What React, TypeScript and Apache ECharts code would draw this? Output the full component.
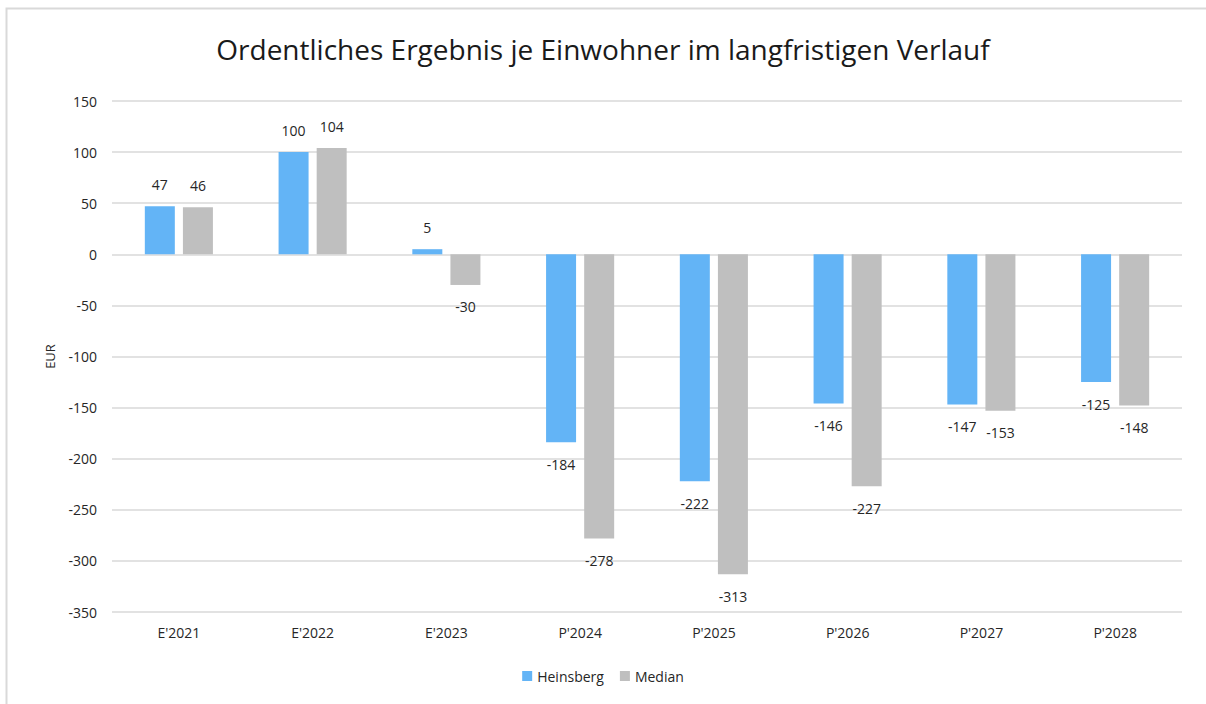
import React, { useEffect, useRef } from "react";
import * as echarts from "echarts";

const categories = ["E'2021", "E'2022", "E'2023", "P'2024", "P'2025", "P'2026", "P'2027", "P'2028"];
const heinsberg = [47, 100, 5, -184, -222, -146, -147, -125];
const median = [46, 104, -30, -278, -313, -227, -153, -148];
const seriesNames = ["Heinsberg", "Median"];
const title = "Ordentliches Ergebnis je Einwohner im langfristigen Verlauf";
const axisName = "EUR";

const FONT = "'Open Sans', 'Liberation Sans', sans-serif";

function toItems(values: number[]) {
  return values.map((v) => ({
    value: v,
    label: { position: v >= 0 ? "top" : "bottom" },
  }));
}

export default function App() {
  const ref = useRef<HTMLDivElement>(null);
  useEffect(() => {
    document.body.style.margin = "0";
    const chart = echarts.init(ref.current!, null, { renderer: "svg" });
    const labelStyle = {
      show: true,
      distance: 15,
      fontSize: 14,
      color: "#262626",
      fontFamily: FONT,
    };
    chart.setOption({
      animation: false,
      backgroundColor: "#ffffff",
      title: {
        text: title,
        left: "center",
        top: 30,
        textStyle: { fontSize: 28, fontWeight: "normal", color: "#1a1a1a", fontFamily: FONT },
      },
      graphic: [
        {
          type: "rect",
          shape: { x: 6.5, y: 8.5, width: 1300, height: 800 },
          style: { fill: "none", stroke: "#d9d9d9", lineWidth: 2 },
          silent: true,
          z: -1,
        },
      ],
      legend: {
        data: seriesNames,
        bottom: 16,
        left: "center",
        itemWidth: 10,
        itemHeight: 10,
        itemGap: 16,
        icon: "rect",
        textStyle: { fontSize: 14, color: "#262626", fontFamily: FONT },
      },
      grid: { left: 112, right: 24, top: 101, bottom: 92, containLabel: false },
      xAxis: {
        type: "category",
        data: categories,
        axisLine: { show: false },
        axisTick: { show: false },
        axisLabel: { fontSize: 14, color: "#262626", margin: 13, fontFamily: FONT },
      },
      yAxis: {
        type: "value",
        min: -350,
        max: 150,
        interval: 50,
        name: axisName,
        nameLocation: "middle",
        nameGap: 56,
        nameRotate: 90,
        nameTextStyle: { fontSize: 13, color: "#262626", fontFamily: FONT },
        axisLine: { show: false },
        axisTick: { show: false },
        axisLabel: { fontSize: 14, color: "#262626", margin: 15, fontFamily: FONT },
        splitLine: { lineStyle: { color: "#d9d9d9", width: 1.5 } },
      },
      series: [
        {
          name: seriesNames[0],
          type: "bar",
          data: toItems(heinsberg),
          barWidth: 30,
          barGap: "27%",
          itemStyle: { color: "#63b4f6" },
          label: labelStyle,
        },
        {
          name: seriesNames[1],
          type: "bar",
          data: toItems(median),
          barWidth: 30,
          itemStyle: { color: "#bfbfbf" },
          label: labelStyle,
        },
      ],
    });
    return () => chart.dispose();
  }, []);
  return <div ref={ref} style={{ width: 1206, height: 704 }} />;
}
